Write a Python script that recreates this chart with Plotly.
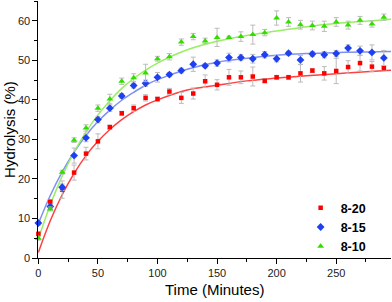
import plotly.graph_objects as go

# ---- data ----
time = [0, 10, 20, 30, 40, 50, 60, 70, 80, 90, 100, 110, 120, 130, 140,
        150, 160, 170, 180, 190, 200, 210, 220, 230, 240, 250, 260, 270, 280, 290]

s820 = [6.1, 14.2, 17.3, 21.6, 26.4, 29.5, 33.1, 36.6, 37.9, 40.5, 40.2, 42.1, 40.5, 41.6, 44.7,
        43.8, 45.7, 45.7, 45.9, 44.8, 45.7, 45.7, 46.7, 47.4, 46.7, 47.3, 48.3, 49.3, 48.4, 48.0]
e820 = [0.5, 0.6, 2.2, 1.9, 1.6, 1.9, 0.5, 0.5, 0.8, 0.8, 0.5, 0.8, 1.4, 1.4, 1.6,
        1.3, 2.0, 1.6, 2.4, 0.5, 0.5, 0.5, 2.2, 0.5, 1.7, 3.2, 1.6, 2.0, 1.3, 0.6]

s815 = [8.85, 13.0, 17.9, 25.9, 30.4, 35.0, 37.9, 41.0, 43.6, 44.2, 45.7, 46.4, 47.4, 49.0, 48.6,
        49.3, 50.7, 50.7, 50.4, 51.4, 50.4, 51.8, 50.1, 51.6, 51.4, 51.7, 53.1, 52.4, 52.0, 50.6]
e815 = [0.5, 0.6, 0.8, 1.9, 1.0, 0.8, 0.8, 0.6, 0.6, 0.8, 1.2, 0.5, 0.6, 1.8, 0.5,
        0.8, 1.1, 0.8, 1.1, 0.8, 0.8, 0.5, 1.1, 0.6, 0.8, 0.8, 0.8, 1.2, 1.9, 1.9]

s810 = [5.0, 12.4, 21.7, 29.8, 32.9, 37.9, 40.2, 44.7, 45.6, 46.8, 50.4, 50.9, 54.6, 56.0, 54.9,
        55.8, 55.8, 56.0, 56.5, 57.0, 60.7, 59.7, 59.0, 58.8, 58.6, 59.7, 58.9, 60.1, 59.2, 60.9]
e810 = [0.5, 0.5, 0.5, 0.6, 0.8, 0.8, 1.2, 0.8, 1.0, 2.2, 0.6, 0.8, 0.8, 0.8, 0.7,
        2.3, 0.3, 1.2, 2.4, 0.8, 1.8, 1.1, 1.1, 1.1, 1.3, 1.1, 1.0, 1.0, 0.8, 0.8]

# fitted curves, values
fit_t = [0, 10, 20, 30, 40, 50, 60, 70, 80, 90, 100, 125, 150, 175, 200, 225, 250, 275, 296]
fit820 = [1.4, 9.4, 16.0, 21.4, 25.9, 29.5, 32.5, 35.0, 37.0, 38.7, 40.0, 42.5, 43.7, 44.8,
          45.5, 46.1, 46.6, 47.1, 47.5]
fit815 = [8.7, 15.8, 21.8, 26.8, 31.0, 34.5, 37.4, 39.9, 41.9, 43.7, 45.1, 47.75, 49.5, 50.5,
          51.25, 51.7, 51.95, 52.1, 52.2]
fit810 = [4.8, 13.45, 20.7, 26.8, 31.9, 36.2, 39.8, 42.9, 45.4, 47.5, 49.3, 52.65, 54.8, 56.3,
          57.4, 58.5, 59.3, 59.9, 60.4]

names = ["8-20", "8-15", "8-10"]
xticks = [0, 50, 100, 150, 200, 250]
yticks = [0, 10, 20, 30, 40, 50, 60]

FONT = "Liberation Sans, Arial, sans-serif"

fig = go.Figure()

# fit lines (no legend)
for fy, col in [(fit820, "#FF4040"), (fit815, "#8090F0"), (fit810, "#99EE66")]:
    fig.add_trace(go.Scatter(x=fit_t, y=fy, mode="lines", line=dict(color=col, width=1.5, shape="spline"),
                             showlegend=False, hoverinfo="skip"))

series = [
    (names[0], s820, e820, "#FF0000", "square", 4.5),
    (names[1], s815, e815, "#1E40F0", "diamond", 6),
    (names[2], s810, e810, "#33DD00", "triangle-up", 6),
]
for name, ys, es, col, sym, sz in series:
    fig.add_trace(go.Scatter(
        x=time, y=ys, mode="markers", name=name,
        marker=dict(color=col, symbol=sym, size=sz, line=dict(width=0)),
        error_y=dict(type="data", array=es, visible=True, color="#BBBBBB", thickness=1, width=2.5),
        cliponaxis=False,
    ))

axis_common = dict(
    showline=True, linecolor="black", linewidth=1.3, ticks="outside", ticklen=4.5, tickwidth=1.2,
    tickcolor="black", showgrid=False, zeroline=False, mirror=False,
    tickfont=dict(family=FONT, size=11, color="#222222"),
)

fig.update_xaxes(range=[-0.3, 296], tickvals=xticks, ticktext=[str(v) for v in xticks],
                 minor=dict(ticks="outside", ticklen=2.5, tickwidth=1, tickcolor="black", dtick=25, tick0=0),
                 **axis_common)
fig.update_yaxes(range=[0, 65], tickvals=yticks, ticktext=[str(v) for v in yticks],
                 minor=dict(ticks="outside", ticklen=2.5, tickwidth=1, tickcolor="black", dtick=5, tick0=0),
                 **axis_common)

fig.update_layout(
    width=392, height=302,
    margin=dict(l=38, r=1, t=1, b=44),
    paper_bgcolor="white", plot_bgcolor="white",
    showlegend=True,
    legend=dict(x=0.744, y=0.2525, xanchor="left", yanchor="top", bgcolor="rgba(0,0,0,0)",
                font=dict(family=FONT, size=12.5, color="black", weight="bold"),
                itemsizing="trace", tracegroupgap=0),
    annotations=[
        dict(text="Time (Minutes)", xref="paper", yref="paper", x=0.501, y=-0.1245,
             xanchor="center", yanchor="middle", showarrow=False,
             font=dict(family=FONT, size=15, color="black")),
        dict(text="Hydrolysis (%)", xref="paper", yref="paper", x=-0.081, y=0.5,
             xanchor="center", yanchor="middle", showarrow=False, textangle=-90,
             font=dict(family=FONT, size=15, color="black")),
    ],
)

fig.write_html("out.html", config={"displayModeBar": False},
               post_script="document.body.style.margin='0';document.body.style.padding='0';")
